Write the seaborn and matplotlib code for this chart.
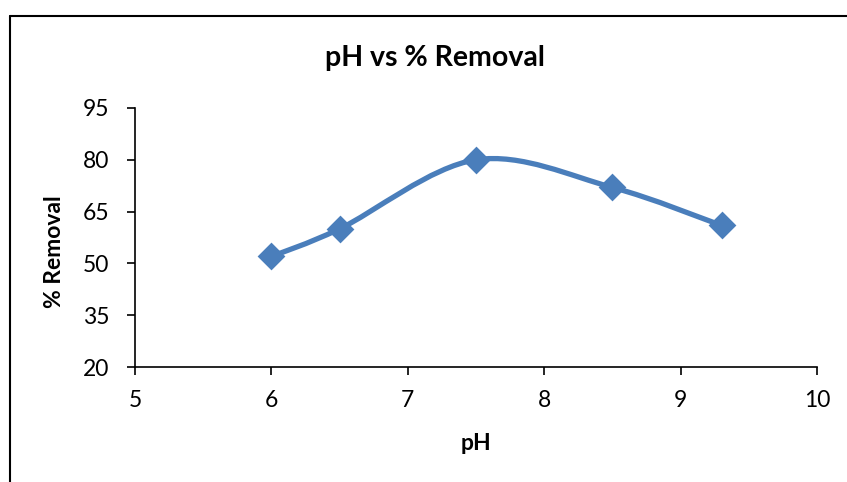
import numpy as np
import matplotlib
matplotlib.use("Agg")
import matplotlib.pyplot as plt
import seaborn as sns
from matplotlib.path import Path
from matplotlib.patches import PathPatch
from matplotlib.lines import Line2D

# values
ph = [6.0, 6.5, 7.5, 8.5, 9.3]
removal = [52, 60, 80, 72, 61]
x_ticks = [5, 6, 7, 8, 9, 10]
y_ticks = [20, 35, 50, 65, 80, 95]

blue = "#4a7ebb"

sns.set_style("white")
plt.rcParams["font.family"] = ["Lato", "DejaVu Sans"]
plt.rcParams["text.color"] = "black"
plt.rcParams["axes.labelcolor"] = "black"

fig = plt.figure(figsize=(8.47, 4.82), dpi=100)
ax = fig.add_axes([135 / 847, 1 - 367 / 482, (817 - 135) / 847, (367 - 108) / 482])


def smooth_path(xs, ys):
    # excel-like smoothed line: cubic bezier segments through the points
    pts = np.column_stack([xs, ys]).astype(float)
    n = len(pts)
    verts = [pts[0]]
    codes = [Path.MOVETO]
    for i in range(n - 1):
        p0 = pts[i - 1] if i > 0 else pts[i]
        p1 = pts[i]
        p2 = pts[i + 1]
        p3 = pts[i + 2] if i + 2 < n else pts[i + 1]
        c1 = p1 + (p2 - p0) / 6
        c2 = p2 - (p3 - p1) / 6
        verts += [c1, c2, p2]
        codes += [Path.CURVE4] * 3
    return Path(verts, codes)


ax.add_patch(PathPatch(smooth_path(ph, removal), facecolor="none",
                       edgecolor=blue, lw=3.8, capstyle="round", zorder=2))
sns.scatterplot(x=ph, y=removal, marker="D", s=200, color=blue,
                edgecolor=blue, linewidth=0, ax=ax, zorder=3)

ax.set_xlim(5, 10)
ax.set_ylim(20, 95)
ax.set_xticks(x_ticks)
ax.set_yticks(y_ticks)
ax.tick_params(axis="both", which="major", direction="out", length=5.5,
               width=1.2, color="black", labelcolor="black", labelsize=16.5,
               bottom=True, left=True)
ax.tick_params(axis="x", pad=11)
ax.tick_params(axis="y", pad=13)
for s in ["top", "right"]:
    ax.spines[s].set_visible(False)
for s in ["left", "bottom"]:
    ax.spines[s].set_color("black")
    ax.spines[s].set_linewidth(1.2)

ax.set_xlabel("pH", fontsize=16.5, fontweight="bold")
ax.set_ylabel("% Removal", fontsize=16.5, fontweight="bold")
ax.xaxis.set_label_coords((476 - 135) / 682, (367 - 443) / 259)
ax.xaxis.label.set_va("center")
ax.yaxis.set_label_coords((55 - 135) / 682, (367 - 252) / 259)
ax.yaxis.label.set_va("center")
fig.text(435 / 847, 1 - 58 / 482, "pH vs % Removal", fontsize=20.5,
         fontweight="bold", ha="center", va="center")

# chart frame (only left and top edges are inside the image)
fig.add_artist(Line2D([10 / 847, 10 / 847], [0, 1 - 16 / 482],
                      transform=fig.transFigure, color="black", lw=1.5))
fig.add_artist(Line2D([10 / 847, 1], [1 - 16 / 482, 1 - 16 / 482],
                      transform=fig.transFigure, color="black", lw=1.5))

fig.savefig("out.png", dpi=100)
